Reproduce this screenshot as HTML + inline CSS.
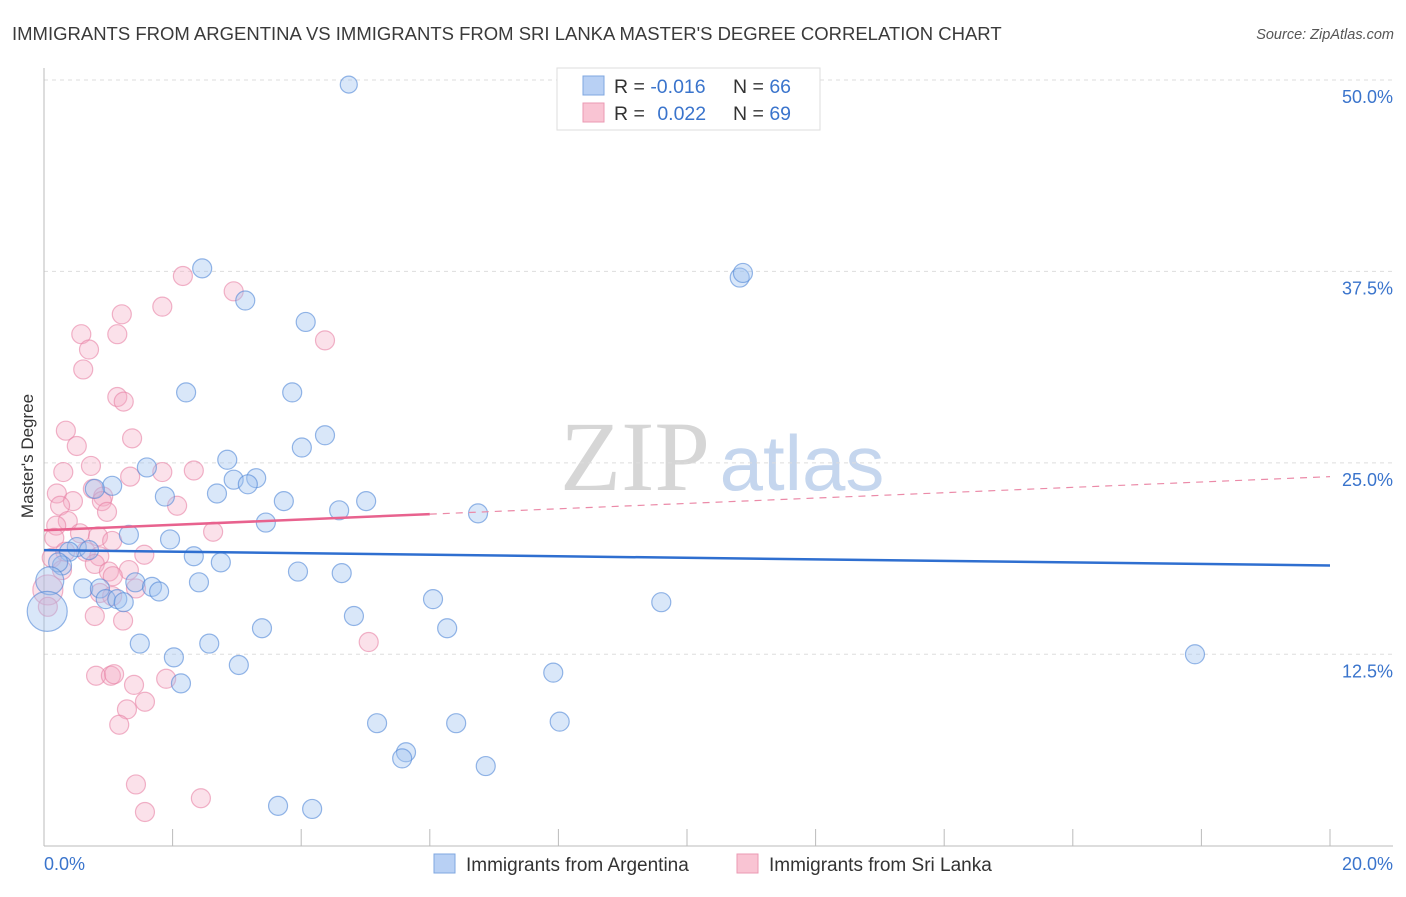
<!DOCTYPE html>
<html><head><meta charset="utf-8"><style>
body{margin:0;background:#fff;font-family:"Liberation Sans",sans-serif}
</style></head><body>
<svg width="1406" height="892" xmlns="http://www.w3.org/2000/svg" font-family="Liberation Sans, sans-serif">
<text x="12" y="40" font-size="18.5" fill="#3a3a3a">IMMIGRANTS FROM ARGENTINA VS IMMIGRANTS FROM SRI LANKA MASTER'S DEGREE CORRELATION CHART</text>
<text x="1394" y="39" font-size="14.5" fill="#555" font-style="italic" text-anchor="end">Source: ZipAtlas.com</text>
<g>
<text x="635" y="490" font-size="100" fill="#d6d6d6" font-family="Liberation Serif, serif" text-anchor="middle">ZIP</text>
<text x="802" y="490" font-size="78" fill="#c5d6ee" text-anchor="middle">atlas</text>
</g>
<g id="grid"></g>
<g id="axes"></g>
<g id="marks"></g>
<text transform="translate(33,456) rotate(-90)" font-size="17" fill="#333" text-anchor="middle">Master's Degree</text>
<g>
<rect x="557" y="68" width="263" height="62" fill="#fff" stroke="#ddd"/>
<rect x="583" y="76" width="21" height="19" fill="#b8d0f4" stroke="#7fa7e0"/>
<rect x="583" y="103" width="21" height="19" fill="#f9c4d3" stroke="#eb9ab3"/>
<text x="614" y="93" font-size="19.5" fill="#333">R = <tspan fill="#3a74cc">-0.016</tspan></text>
<text x="733" y="93" font-size="19.5" fill="#333">N = <tspan fill="#3a74cc">66</tspan></text>
<text x="614" y="120" font-size="19.5" fill="#333">R = <tspan fill="#3a74cc" dx="7">0.022</tspan></text>
<text x="733" y="120" font-size="19.5" fill="#333">N = <tspan fill="#3a74cc">69</tspan></text>
</g>
<g>
<rect x="434" y="854" width="21" height="19" fill="#b8d0f4" stroke="#7fa7e0"/>
<text x="466" y="871" font-size="19" fill="#333">Immigrants from Argentina</text>
<rect x="737" y="854" width="21" height="19" fill="#f9c4d3" stroke="#eb9ab3"/>
<text x="769" y="871" font-size="19" fill="#333">Immigrants from Sri Lanka</text>
</g>
</svg>
<script>
const yTicks=[12.5,25,37.5,50];
const yTickLabels=["12.5%","25.0%","37.5%","50.0%"];
const xTickLabels=["0.0%","20.0%"];
const blueX=[4.74,2.46,3.13,10.82,10.87,4.07,2.21,3.86,4.37,4.01,2.85,1.60,3.30,2.95,3.17,1.06,0.79,1.88,2.69,3.73,5.01,4.59,6.75,3.45,1.32,1.96,0.51,0.39,0.70,2.33,2.75,0.28,0.22,3.95,4.63,0.09,1.42,2.41,1.68,1.79,0.61,0.87,0.96,1.14,1.24,6.05,9.60,0.05,4.82,6.27,3.39,1.49,2.57,2.02,3.03,17.90,7.92,2.13,5.18,6.41,8.02,5.63,5.57,6.87,3.64,4.17];
const blueY=[49.7,37.7,35.6,37.1,37.4,34.2,29.6,29.6,26.8,26.0,25.2,24.7,24.0,23.9,23.6,23.5,23.3,22.8,23.0,22.5,22.5,21.9,21.7,21.1,20.3,20.0,19.5,19.2,19.3,18.9,18.5,18.3,18.5,17.9,17.8,17.3,17.2,17.2,16.9,16.6,16.8,16.8,16.1,16.1,15.9,16.1,15.9,15.3,15.0,14.2,14.2,13.2,13.2,12.3,11.8,12.5,11.3,10.6,8.0,8.0,8.1,6.1,5.7,5.2,2.6,2.4];
const blueR=[8.5,9.5,9.5,9.5,9.5,9.5,9.5,9.5,9.5,9.5,9.5,9.5,9.5,9.5,9.5,9.5,9.5,9.5,9.5,9.5,9.5,9.5,9.5,9.5,9.5,9.5,9.5,9.5,9.5,9.5,9.5,9.5,9.5,9.5,9.5,14,9.5,9.5,9.5,9.5,9.5,9.5,9.5,9.5,9.5,9.5,9.5,20,9.5,9.5,9.5,9.5,9.5,9.5,9.5,9.5,9.5,9.5,9.5,9.5,9.5,9.5,9.5,9.5,9.5,9.5];
const pinkX=[2.16,2.95,1.84,1.21,0.58,1.14,0.70,4.37,0.61,1.14,1.24,0.34,1.37,0.51,0.73,0.30,1.84,2.33,1.34,0.20,0.76,0.92,0.90,0.45,0.25,2.07,0.98,0.37,0.19,2.63,0.16,0.56,0.84,1.06,0.33,0.65,0.86,1.56,0.12,0.79,1.01,1.32,1.07,0.28,1.43,0.06,0.87,1.06,0.06,0.79,1.23,5.05,0.81,1.04,1.09,1.90,1.40,1.57,1.29,1.17,1.43,2.44,1.57];
const pinkY=[37.2,36.2,35.2,34.7,33.4,33.4,32.4,33.0,31.1,29.3,29.0,27.1,26.6,26.1,24.8,24.4,24.4,24.5,24.1,23.0,23.3,22.8,22.5,22.5,22.2,22.2,21.8,21.2,20.9,20.5,20.1,20.4,20.2,19.9,19.2,19.2,18.9,19.0,18.8,18.4,17.9,18.0,17.6,18.0,16.8,16.7,16.5,16.3,15.6,15.0,14.7,13.3,11.1,11.1,11.2,10.9,10.5,9.4,8.9,7.9,4.0,3.1,2.2];
const blueTrend=[19.3,18.3];
const pinkTrend=[20.6,24.1];
const pinkSolidEnd=6;

const NS="http://www.w3.org/2000/svg";
const X0=44,X1=1330,Y0=845.7,Y50=80;
const xs=v=>X0+(X1-X0)*v/20;
const ys=v=>Y0-(Y0-Y50)*v/50;
function mk(tag,attrs,parent){const e=document.createElementNS(NS,tag);for(const k in attrs)e.setAttribute(k,attrs[k]);parent.appendChild(e);return e;}
const grid=document.getElementById('grid'),axes=document.getElementById('axes'),marks=document.getElementById('marks');
yTicks.forEach((t,i)=>{
 const l=mk('line',{x1:X0,x2:1393,y1:ys(t),y2:ys(t),stroke:'#ddd','stroke-dasharray':'4,4'},grid);
 
 
 const tx=mk('text',{x:1393,y:ys(t)+23,'font-size':18,fill:'#3a74cc','text-anchor':'end'},axes);
 tx.textContent=yTickLabels[i];
 
 
});
let a=mk('line',{x1:X0,x2:X0,y1:68,y2:846,stroke:'#bbb'},axes);


a=mk('line',{x1:X0,x2:1393,y1:846,y2:846,stroke:'#bbb'},axes);


for(let i=1;i<=10;i++){
 const t=mk('line',{x1:xs(i*2),x2:xs(i*2),y1:829,y2:846,stroke:'#bbb'},axes);
 
 
}
let xl=mk('text',{x:X0,y:870,'font-size':18,fill:'#3a74cc'},axes);xl.textContent=xTickLabels[0];


xl=mk('text',{x:1393,y:870,'font-size':18,fill:'#3a74cc','text-anchor':'end'},axes);xl.textContent=xTickLabels[1];


pinkX.forEach((x,i)=>{
 const r=(x<0.1&&pinkY[i]>16&&pinkY[i]<17)?15:9.5;
 const c=mk('circle',{cx:xs(x),cy:ys(pinkY[i]),r:r,fill:'rgba(244,170,194,0.35)',stroke:'rgba(232,130,165,0.6)','stroke-width':1.2},marks);
 
 
});
blueX.forEach((x,i)=>{
 const c=mk('circle',{cx:xs(x),cy:ys(blueY[i]),r:blueR[i],fill:'rgba(160,195,240,0.4)',stroke:'rgba(80,135,215,0.6)','stroke-width':1.2},marks);
 
 
});
let tl=mk('line',{x1:xs(0),x2:xs(20),y1:ys(blueTrend[0]),y2:ys(blueTrend[1]),stroke:'#2f6fd0','stroke-width':2.5},marks);


const pAt=v=>pinkTrend[0]+(pinkTrend[1]-pinkTrend[0])*v/20;
tl=mk('line',{x1:xs(0),x2:xs(pinkSolidEnd),y1:ys(pAt(0)),y2:ys(pAt(pinkSolidEnd)),stroke:'#e8628e','stroke-width':2.5},marks);


tl=mk('line',{x1:xs(pinkSolidEnd),x2:xs(20),y1:ys(pAt(pinkSolidEnd)),y2:ys(pAt(20)),stroke:'#eb8aa8','stroke-width':1.2,'stroke-dasharray':'7,6'},marks);


</script>
</body></html>
